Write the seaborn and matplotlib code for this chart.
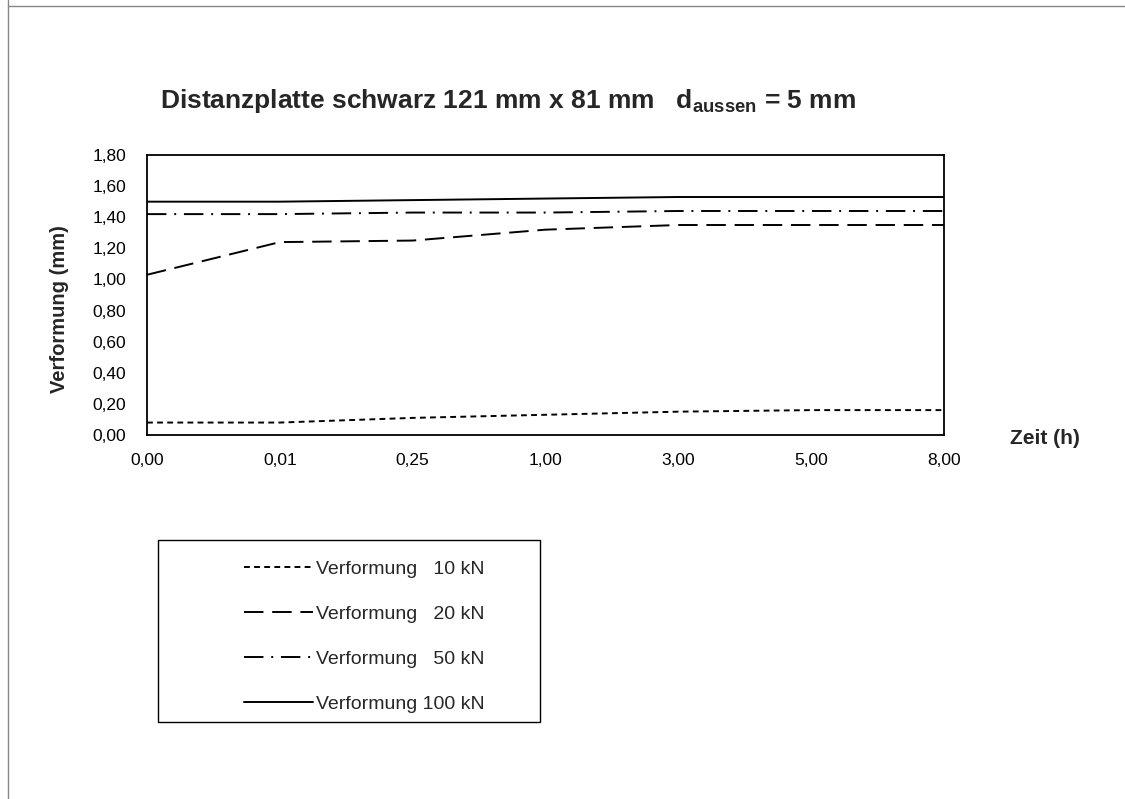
import matplotlib
matplotlib.use("Agg")
import matplotlib.pyplot as plt
from matplotlib.lines import Line2D
from matplotlib.patches import Rectangle
import pandas as pd
import seaborn as sns

# Time points (categorical axis) and deformation readings in mm
zeit_labels = ["0,00", "0,01", "0,25", "1,00", "3,00", "5,00", "8,00"]
verf_10kn = [0.08, 0.08, 0.11, 0.13, 0.15, 0.16, 0.16]
verf_20kn = [1.03, 1.24, 1.25, 1.32, 1.35, 1.35, 1.35]
verf_50kn = [1.42, 1.42, 1.43, 1.43, 1.44, 1.44, 1.44]
verf_100kn = [1.50, 1.50, 1.51, 1.52, 1.53, 1.53, 1.53]
series_labels = ["Verformung   10 kN", "Verformung   20 kN",
                 "Verformung   50 kN", "Verformung 100 kN"]
y_ticks = [0.0, 0.2, 0.4, 0.6, 0.8, 1.0, 1.2, 1.4, 1.6, 1.8]

sns.set_theme(style="white")
plt.rcParams["font.family"] = ["Liberation Sans", "DejaVu Sans"]
plt.rcParams["mathtext.fontset"] = "custom"
plt.rcParams["mathtext.rm"] = "Liberation Sans"
plt.rcParams["mathtext.bf"] = "Liberation Sans:bold"

rows = []
for label, values in zip(series_labels, [verf_10kn, verf_20kn, verf_50kn, verf_100kn]):
    for i, v in enumerate(values):
        rows.append({"pos": i, "Verformung": v, "Serie": label})
df = pd.DataFrame(rows)

dash_styles = {
    series_labels[0]: (3, 2.2),
    series_labels[1]: (10, 4.5),
    series_labels[2]: (10, 4, 1, 4),
    series_labels[3]: "",
}

W, H = 1125, 799
fig = plt.figure(figsize=(W / 100, H / 100), dpi=100)
fig.patch.set_facecolor("white")
ax = fig.add_axes([147 / W, 1 - 435 / H, (944 - 147) / W, (435 - 155) / H])

sns.lineplot(data=df, x="pos", y="Verformung", hue="Serie", style="Serie",
             palette=["black"] * 4, dashes=dash_styles, linewidth=1.4,
             ax=ax, legend=False)

ax.set_xlim(0, len(zeit_labels) - 1)
ax.set_ylim(0, 1.8)
ax.set_xticks(range(len(zeit_labels)))
ax.set_xticklabels(zeit_labels)
ax.set_yticks(y_ticks)
ax.set_yticklabels([f"{t:.2f}".replace(".", ",") for t in y_ticks])
ax.tick_params(axis="both", direction="inout", length=8, width=1, color="black",
               labelsize=12.5, labelcolor="black")
ax.tick_params(axis="y", pad=11)
ax.tick_params(axis="x", pad=9)
for sp in ax.spines.values():
    sp.set_visible(True)
    sp.set_color("black")
    sp.set_linewidth(1.3)
ax.set_xlabel("")
ax.set_ylabel("Verformung (mm)", fontsize=14.5, fontweight="bold")
ax.yaxis.set_label_coords((69 - 147) / (944 - 147), 0.45)

fig.text(508 / W, 1 - 108 / H,
         r"Distanzplatte schwarz 121 mm x 81 mm   d$_{\mathbf{aussen}}$ = 5 mm",
         ha="center", va="baseline", fontsize=19, fontweight="bold")
fig.text(1010 / W, 1 - 439 / H, "Zeit (h)", ha="left", va="center",
         fontsize=15, fontweight="bold")

# Legend in its own framed box below the chart
fig.add_artist(Rectangle((158 / W, 1 - 722 / H), (540 - 158) / W, (722 - 540) / H,
                         transform=fig.transFigure, fill=False,
                         edgecolor="black", linewidth=1.0))
handles = [Line2D([], [], color="black", linewidth=1.4, dashes=dash_styles[s])
           for s in series_labels[:3]]
handles.append(Line2D([], [], color="black", linewidth=1.4, linestyle="-"))
fig.legend(handles, series_labels, loc="upper left",
           bbox_to_anchor=(226 / W, 1 - 543 / H), frameon=False,
           fontsize=14, handlelength=3.55, handletextpad=0.2,
           labelspacing=1.4)

# Edges of the sheet
fig.add_artist(Line2D([8 / W, 8 / W], [0, 1], color="#888888", linewidth=1.0))
fig.add_artist(Line2D([8 / W, 1], [1 - 6 / H, 1 - 6 / H], color="#888888", linewidth=1.0))

fig.savefig("out.png", dpi=100)
